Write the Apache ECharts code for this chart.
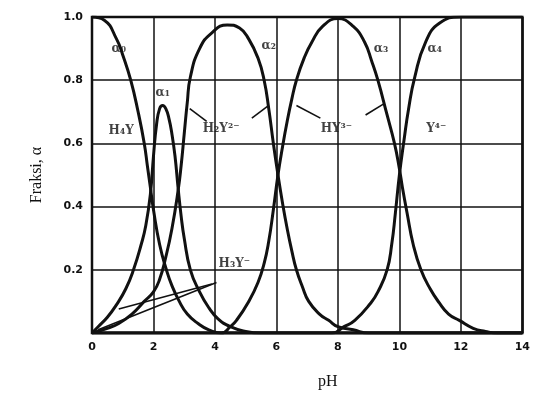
<!DOCTYPE html>
<html>
<head>
<meta charset="utf-8">
<script src="https://cdn.jsdelivr.net/npm/echarts@6/dist/echarts.min.js"></script>
<style>
  html, body { margin: 0; padding: 0; background: #fff; }
  #main { width: 533px; height: 397px; }
</style>
</head>
<body>
<div id="main"></div>
<script>
// fractions, pH on x, alpha on y
var ph0 = [0, 0.4, 0.8, 1.0, 1.26, 1.5, 1.7, 1.8, 1.9, 2.0, 2.2, 2.42, 2.6, 2.84, 3.1, 3.45, 3.8, 4.2, 14];
var a0  = [1.0, 0.99, 0.93, 0.88, 0.80, 0.70, 0.60, 0.53, 0.46, 0.39, 0.28, 0.20, 0.15, 0.10, 0.06, 0.03, 0.01, 0, 0];

var ph1 = [0, 0.2, 0.5, 0.8, 1.1, 1.35, 1.6, 1.75, 1.9, 2.0, 2.1, 2.2, 2.3, 2.4, 2.5, 2.6, 2.7, 2.8, 2.9, 3.0, 3.2, 3.5, 3.8, 4.1, 4.5, 5.0, 5.5, 14];
var a1  = [0, 0.02, 0.05, 0.09, 0.14, 0.20, 0.28, 0.34, 0.44, 0.56, 0.66, 0.71, 0.72, 0.71, 0.68, 0.63, 0.56, 0.46, 0.37, 0.30, 0.20, 0.13, 0.08, 0.045, 0.02, 0.005, 0, 0];

var ph2 = [0, 0.5, 0.87, 1.3, 1.7, 2.0, 2.2, 2.4, 2.6, 2.8, 2.9, 3.0, 3.1, 3.2, 3.5, 3.9, 4.4, 4.8, 5.1, 5.4, 5.6, 5.75, 5.9, 6.05, 6.2, 6.35, 6.5, 6.65, 6.85, 7.05, 7.4, 7.7, 8.0, 8.5, 9.0, 14];
var a2  = [0, 0.015, 0.03, 0.06, 0.10, 0.13, 0.17, 0.24, 0.33, 0.45, 0.53, 0.63, 0.73, 0.81, 0.90, 0.95, 0.975, 0.965, 0.93, 0.87, 0.80, 0.71, 0.60, 0.50, 0.41, 0.33, 0.26, 0.20, 0.145, 0.10, 0.06, 0.04, 0.02, 0.01, 0, 0];

var ph3 = [0, 4.2, 4.5, 4.7, 5.1, 5.4, 5.6, 5.75, 5.9, 6.05, 6.2, 6.35, 6.5, 6.65, 6.9, 7.15, 7.5, 8.0, 8.5, 8.87, 9.1, 9.3, 9.6, 9.84, 10.0, 10.1, 10.25, 10.45, 10.7, 11.0, 11.3, 11.6, 11.95, 12.4, 12.8, 13.2, 14];
var a3  = [0, 0, 0.02, 0.04, 0.10, 0.16, 0.22, 0.29, 0.39, 0.50, 0.59, 0.67, 0.74, 0.80, 0.87, 0.92, 0.97, 0.995, 0.97, 0.92, 0.86, 0.80, 0.69, 0.60, 0.52, 0.46, 0.38, 0.28, 0.20, 0.14, 0.095, 0.06, 0.04, 0.015, 0.005, 0, 0];

var ph4 = [0, 7.8, 8.2, 8.55, 9.07, 9.3, 9.6, 9.75, 9.87, 10.0, 10.15, 10.3, 10.5, 10.85, 11.3, 12.0, 14];
var a4  = [0, 0, 0.02, 0.04, 0.095, 0.13, 0.20, 0.28, 0.38, 0.50, 0.61, 0.71, 0.81, 0.92, 0.98, 1.0, 1.0];

var xTicks = [0, 2, 4, 6, 8, 10, 12, 14];
var yTicks = [0.2, 0.4, 0.6, 0.8, 1.0];

// curve / species labels: [pH, alpha, text]
var labels = [
    [0.87, 0.90, 'α₀'],
    [2.3, 0.76, 'α₁'],
    [5.75, 0.91, 'α₂'],
    [9.4, 0.90, 'α₃'],
    [11.15, 0.90, 'α₄'],
    [0.95, 0.64, 'H₄Y'],
    [4.2, 0.645, 'H₂Y²⁻'],
    [7.95, 0.645, 'HY³⁻'],
    [11.2, 0.645, 'Y⁴⁻'],
    [4.63, 0.22, 'H₃Y⁻']
];

// pointer lines from the labels to the curves
var pointers = [
    [[3.18, 0.71], [3.73, 0.67]],
    [[5.2, 0.68], [5.75, 0.72]],
    [[6.65, 0.72], [7.43, 0.68]],
    [[8.9, 0.69], [9.49, 0.725]],
    [[4.05, 0.16], [0.2, 0.01]],
    [[3.9, 0.155], [0.87, 0.076]]
];

function zip(xs, ys) {
    return xs.map(function (x, i) { return [x, ys[i]]; });
}

function curve(name, xs, ys) {
    return {
        name: name,
        type: 'line',
        data: zip(xs, ys),
        smooth: 0.5,
        showSymbol: false,
        silent: true,
        lineStyle: { color: '#111', width: 3 }
    };
}

var myChart = echarts.init(document.getElementById('main'));

var series = [
    curve('a0', ph0, a0),
    curve('a1', ph1, a1),
    curve('a2', ph2, a2),
    curve('a3', ph3, a3),
    curve('a4', ph4, a4)
];

series.push({
    type: 'scatter',
    symbolSize: 0,
    silent: true,
    data: labels.map(function (l) { return { value: [l[0], l[1]], name: l[2] }; }),
    label: {
        show: true,
        position: 'inside',
        formatter: function (p) { return p.name; },
        color: '#111',
        fontFamily: 'DejaVu Serif',
        fontWeight: 'bold',
        fontSize: 12
    },
    markLine: {
        silent: true,
        symbol: 'none',
        label: { show: false },
        lineStyle: { color: '#111', width: 1.6, type: 'solid' },
        data: pointers.map(function (p) {
            return [{ coord: p[0] }, { coord: p[1] }];
        })
    }
});

option = {
    backgroundColor: '#fff',
    animation: false,
    grid: {
        left: 92,
        right: 6,
        top: 17,
        bottom: 64,
        show: true,
        borderColor: '#111',
        borderWidth: 2.5
    },
    xAxis: {
        type: 'value',
        min: 0,
        max: 14,
        interval: 2,
        axisLine: { show: false },
        axisTick: { show: false },
        splitLine: { show: true, lineStyle: { color: '#111', width: 1.5 } },
        axisLabel: {
            color: '#111',
            fontFamily: 'DejaVu Sans',
            fontWeight: 'bold',
            fontSize: 11,
            margin: 9,
            formatter: function (v) { return xTicks.indexOf(v) >= 0 ? String(v) : ''; }
        }
    },
    yAxis: {
        type: 'value',
        min: 0,
        max: 1.0,
        interval: 0.2,
        name: 'Fraksi, α',
        nameLocation: 'middle',
        nameGap: 47,
        nameTextStyle: { color: '#111', fontFamily: 'Liberation Serif', fontSize: 16 },
        axisLine: { show: false },
        axisTick: { show: false },
        splitLine: { show: true, lineStyle: { color: '#111', width: 1.5 } },
        axisLabel: {
            color: '#111',
            fontFamily: 'DejaVu Sans',
            fontWeight: 'bold',
            fontSize: 11,
            margin: 9,
            formatter: function (v) {
                for (var i = 0; i < yTicks.length; i++) {
                    if (Math.abs(yTicks[i] - v) < 1e-6) return v.toFixed(1);
                }
                return '';
            }
        }
    },
    graphic: [{
        type: 'text',
        left: 318,
        top: 374,
        style: { text: 'pH', fill: '#111', font: '16px "Liberation Serif"' }
    }],
    series: series
};

myChart.setOption(option);
</script>
</body>
</html>
